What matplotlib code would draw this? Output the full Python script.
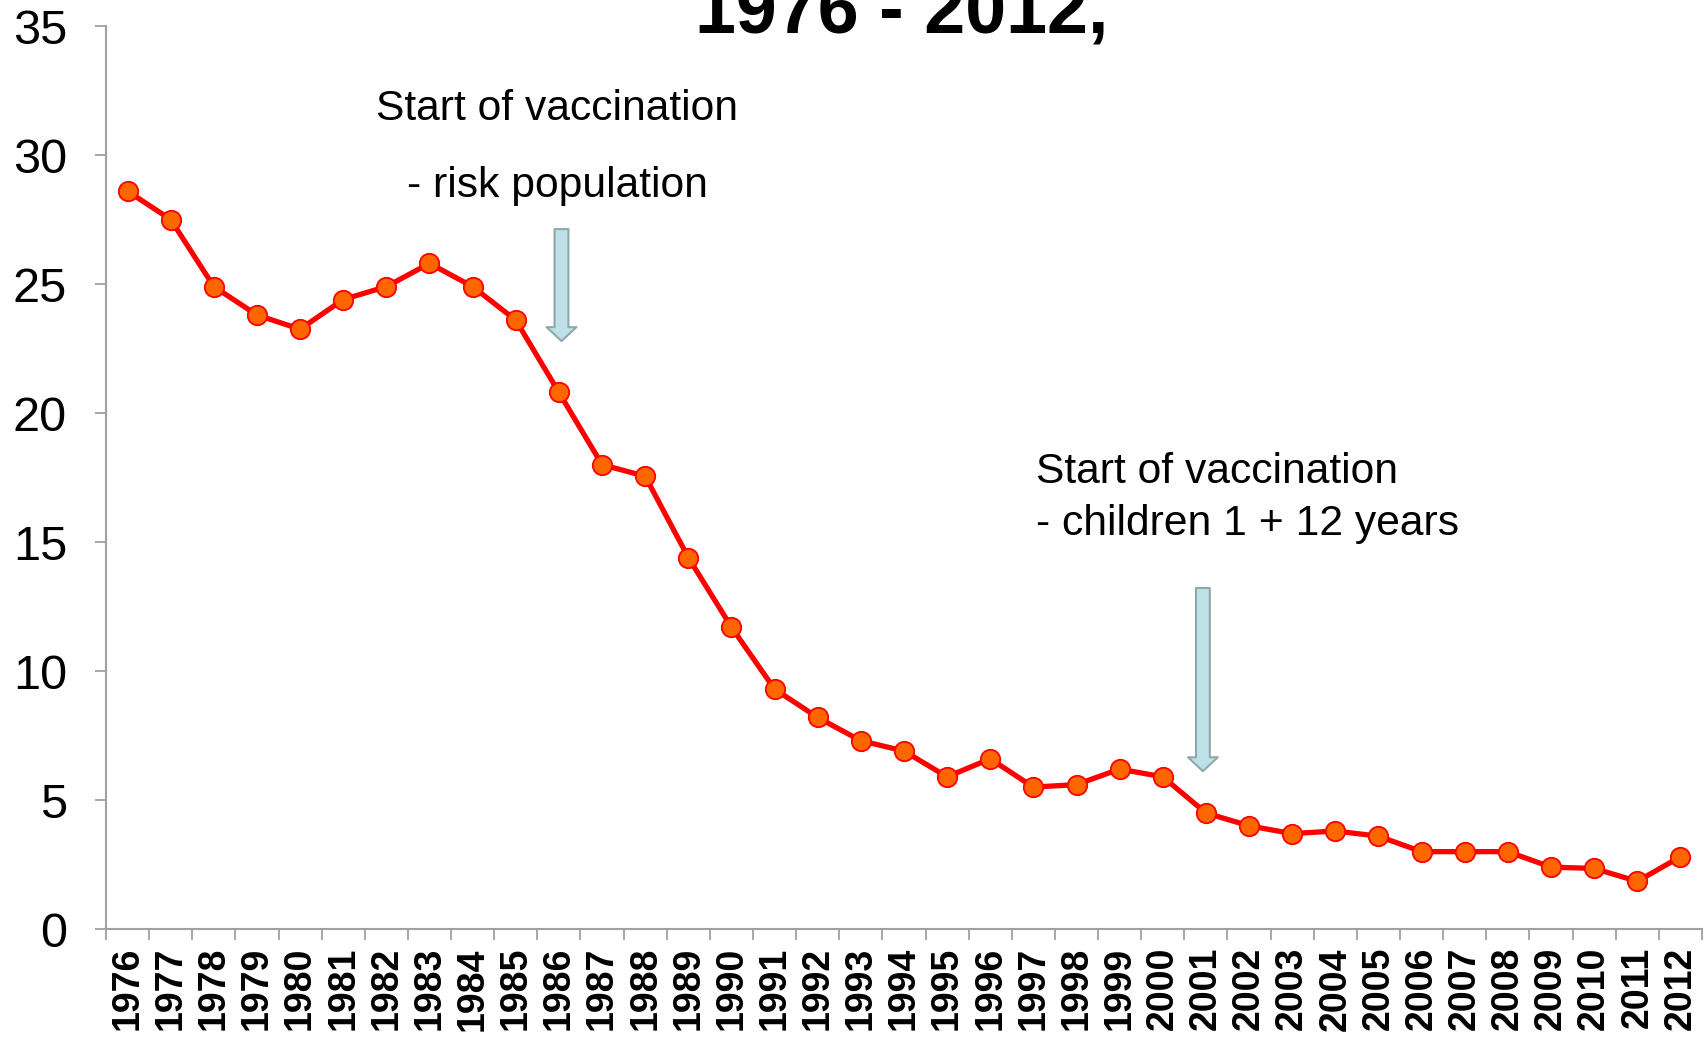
import matplotlib
matplotlib.use("Agg")
import matplotlib.pyplot as plt

plt.rcParams['font.family'] = ['Liberation Sans', 'DejaVu Sans']

years = [str(y) for y in range(1976, 2013)]
values = [28.6, 27.5, 24.9, 23.8, 23.25, 24.4, 24.9, 25.8, 24.9, 23.6,
          20.8, 18.0, 17.55, 14.4, 11.7, 9.3, 8.2, 7.3, 6.9, 5.9,
          6.6, 5.5, 5.6, 6.2, 5.9, 4.5, 4.0, 3.7, 3.8, 3.6,
          3.0, 3.0, 3.0, 2.4, 2.35, 1.85, 2.8]
yticks = [0, 5, 10, 15, 20, 25, 30, 35]
title_text = "1976 - 2012,"

fig = plt.figure(figsize=(17.04, 10.37), dpi=100)
ax = fig.add_axes([0.0622, 0.1041, 0.9366, 0.8708])

x = list(range(len(years)))
ax.plot(x, values, color='#FF0000', lw=3.8, marker='o', markersize=14,
        markerfacecolor='#FF6600', markeredgecolor='#FF0000', markeredgewidth=1.3,
        zorder=3)

ax.set_xlim(-0.5, len(years) - 0.5)
ax.set_ylim(0, 35)
ax.set_yticks(yticks)
ax.set_yticklabels([str(t) for t in yticks], fontsize=35)

ax.set_xticks(x)
ax.set_xticklabels(years, rotation=90, fontsize=27, fontweight='bold')
ax.set_xticks([i - 0.5 for i in range(len(years) + 1)], minor=True)
ax.tick_params(axis='x', which='major', length=0, pad=13)
ax.tick_params(axis='x', which='minor', length=8, width=1.3, color='#A0A0A0')
ax.tick_params(axis='y', which='major', length=8, width=1.3, color='#A0A0A0', pad=20)

for s in ['top', 'right']:
    ax.spines[s].set_visible(False)
for s in ['left', 'bottom']:
    ax.spines[s].set_color('#A0A0A0')
    ax.spines[s].set_linewidth(1.5)

# annotations
ax.text(5.75, 31.8, "Start of vaccination", fontsize=30.7, va='center', ha='left')
ax.text(6.48, 28.8, "- risk population", fontsize=30.7, va='center', ha='left')
ax.text(21.05, 17.7, "Start of vaccination", fontsize=30.7, va='center', ha='left')
ax.text(21.05, 15.7, "- children 1 + 12 years", fontsize=30.7, va='center', ha='left')

arrow_style = 'simple,head_length=1.0,head_width=2.15,tail_width=1.0'
for xa, ytail, ytip in [(10.06, 27.13, 22.79), (24.93, 13.22, 6.12)]:
    ax.annotate('', xy=(xa, ytip), xytext=(xa, ytail),
                arrowprops=dict(arrowstyle=arrow_style, mutation_scale=10,
                                fc='#BDE1E6', ec='#8FA9AB', lw=1.5,
                                shrinkA=0, shrinkB=0))

fig.text(0.408, 0.969, title_text, fontsize=53, fontweight='bold',
         ha='left', va='baseline')

fig.savefig('out.png', dpi=100)
